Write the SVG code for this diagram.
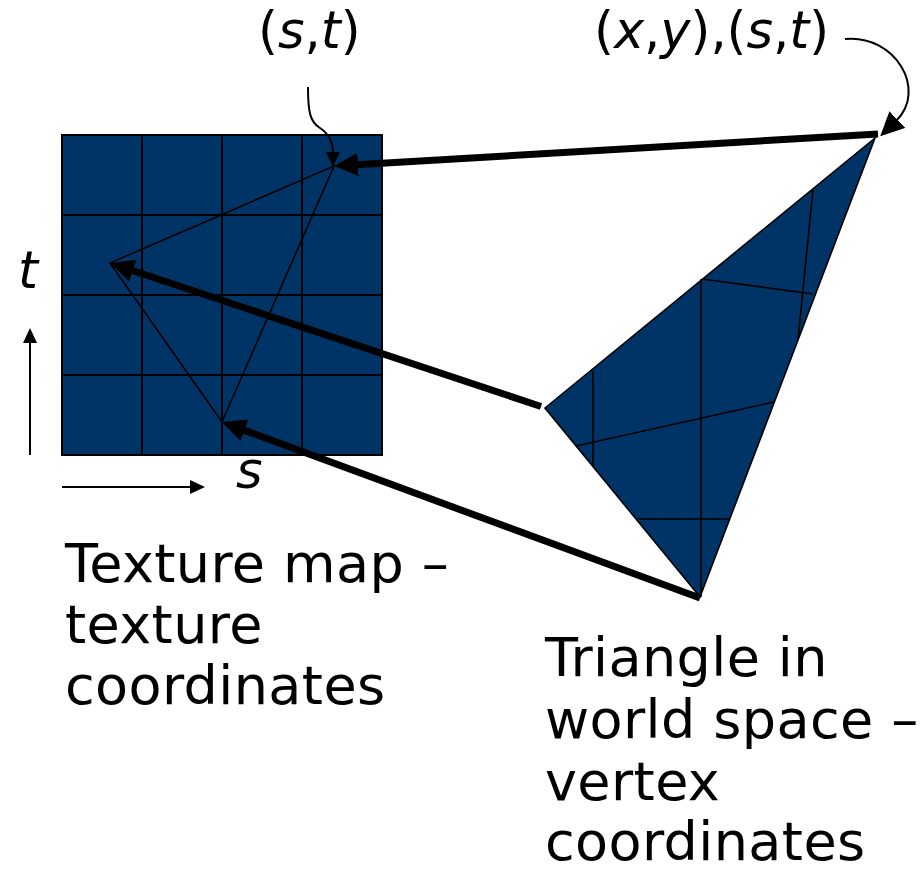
<svg xmlns="http://www.w3.org/2000/svg" width="922" height="872" viewBox="0 0 922 872">
<defs>
<style>
.fill{fill:#003366;stroke:#000;stroke-width:2}
.grid{stroke:#000;stroke-width:2;fill:none}
.thin{stroke:#000;stroke-width:1.6;fill:none}
.thick{stroke:#000;stroke-width:7;fill:none}
.small{stroke:#000;stroke-width:2;fill:none}
.lbl{font-family:"DejaVu Sans","Verdana",sans-serif;font-size:54px;letter-spacing:0.4px;fill:#000}
.it{font-family:"DejaVu Sans","Verdana",sans-serif;font-size:51px;fill:#000}
</style>
<marker id="big" markerUnits="userSpaceOnUse" markerWidth="26" markerHeight="24" refX="2" refY="11.5" orient="auto" viewBox="0 0 26 24">
<path d="M0,0 L24,11.5 L0,23 z" fill="#000"/>
</marker>
<marker id="sm" markerUnits="userSpaceOnUse" markerWidth="16" markerHeight="15" refX="1" refY="7" orient="auto" viewBox="0 0 16 15">
<path d="M0,0 L15,7 L0,14 z" fill="#000"/>
</marker>
</defs>

<g id="texture-map">
<rect class="fill" x="62" y="135" width="320" height="320"/>
<path class="grid" d="M142,135V455M222,135V455M302,135V455M62,215H382M62,295H382M62,375H382"/>
<polygon class="thin" points="334,166 110,263 222,422"/>
</g>

<g id="world-triangle">
<polygon class="fill" style="stroke-width:1.6" points="875,138 545,408 700,597"/>
<path class="thin" d="M701,279V597M702,279L813,294M813,189L798,340M593,371V467M576,446L774,402M638,519H729"/>
</g>

<g id="axes">
<line class="small" x1="30" y1="455" x2="30" y2="342" marker-end="url(#sm)"/>
<line class="small" x1="62" y1="487" x2="191" y2="487" marker-end="url(#sm)"/>
</g>

<g id="connectors">
<line class="thick" x1="878" y1="134" x2="356" y2="164.7" marker-end="url(#big)"/>
<line class="thick" x1="541" y1="406.5" x2="131" y2="270" marker-end="url(#big)"/>
<line class="thick" x1="700" y1="598" x2="242.6" y2="429.6" marker-end="url(#big)"/>
<path class="small" d="M308,87 C308,112 310,122 320,128 C329,134 333,142 333,153" marker-end="url(#sm)"/>
<path class="small" d="M845,39 C895,34 928,90 896,121" marker-end="url(#big)"/>
</g>

<g id="labels">
<text class="it" x="258" y="48">(<tspan font-style="italic">s</tspan>,<tspan font-style="italic">t</tspan>)</text>
<text class="it" x="594" y="48">(<tspan font-style="italic">x</tspan>,<tspan font-style="italic">y</tspan>),(<tspan font-style="italic">s</tspan>,<tspan font-style="italic">t</tspan>)</text>
<text class="it" x="18" y="288" font-style="italic">t</text>
<text class="it" x="236" y="488" font-style="italic">s</text>
<text class="lbl" x="65" y="582">Texture map –</text>
<text class="lbl" x="65" y="643">texture</text>
<text class="lbl" x="65" y="704">coordinates</text>
<text class="lbl" x="545" y="676">Triangle in</text>
<text class="lbl" x="545" y="738">world space –</text>
<text class="lbl" x="545" y="800">vertex</text>
<text class="lbl" x="545" y="860">coordinates</text>
</g>
</svg>
